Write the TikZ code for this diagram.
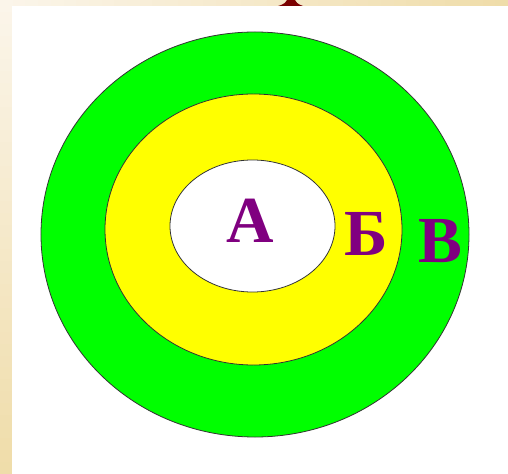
\documentclass[tikz,border=0pt]{standalone}
\usepackage{fontspec}
\setmainfont{Liberation Serif}
\usetikzlibrary{shapes.geometric}
\definecolor{zgreen}{HTML}{00FF00}
\definecolor{zyellow}{HTML}{FFFF00}
\definecolor{zlabel}{HTML}{800080}
\definecolor{ztitle}{HTML}{7A0000}
\definecolor{bglight}{HTML}{FBF5EA}
\definecolor{bgtan}{HTML}{EFDCA8}
\tikzset{
  zone/.style={draw=black!80,ellipse,inner sep=0pt,line width=0.8pt},
  zlbl/.style={text=zlabel,font=\fontsize{66}{66}\selectfont\bfseries,anchor=base,inner sep=0pt}
}
\begin{document}
\begin{tikzpicture}[x=1bp,y=-1bp]
  \useasboundingbox (0,0) rectangle (508,474);
  % background strips and panel
  \fill[white] (0,0) rectangle (508,474);
  \foreach \i in {0,...,39} {
    \pgfmathsetmacro\p{\i*2.5}
    \fill[bgtan!\p!bglight] (0,\i*11.85) rectangle (12,\i*11.85+12.2);
    \fill[bgtan!\p!bglight] (\i*12.7,0) rectangle (\i*12.7+13,6);
  }
  \fill[ztitle] (278,6) .. controls (285,4) and (286,2) .. (287,0) -- (295,0) .. controls (296,2) and (297,4) .. (303,6) -- cycle;

  % zones
  \node[zone,fill=zgreen,minimum width=428bp,minimum height=405bp] (zoneV) at (255,234.5) {};
  \node[zone,fill=zyellow,minimum width=297bp,minimum height=271bp] (zoneB) at (253.5,229.5) {};
  \node[zone,fill=white,minimum width=165bp,minimum height=132bp] (zoneA) at (252.5,226) {};

  % labels
  \node[zlbl] (lblA) at (250,243) {А};
  \node[zlbl] (lblB) at (366,255) {Б};
  \node[zlbl] (lblV) at (440,262) {В};
\end{tikzpicture}
\end{document}
